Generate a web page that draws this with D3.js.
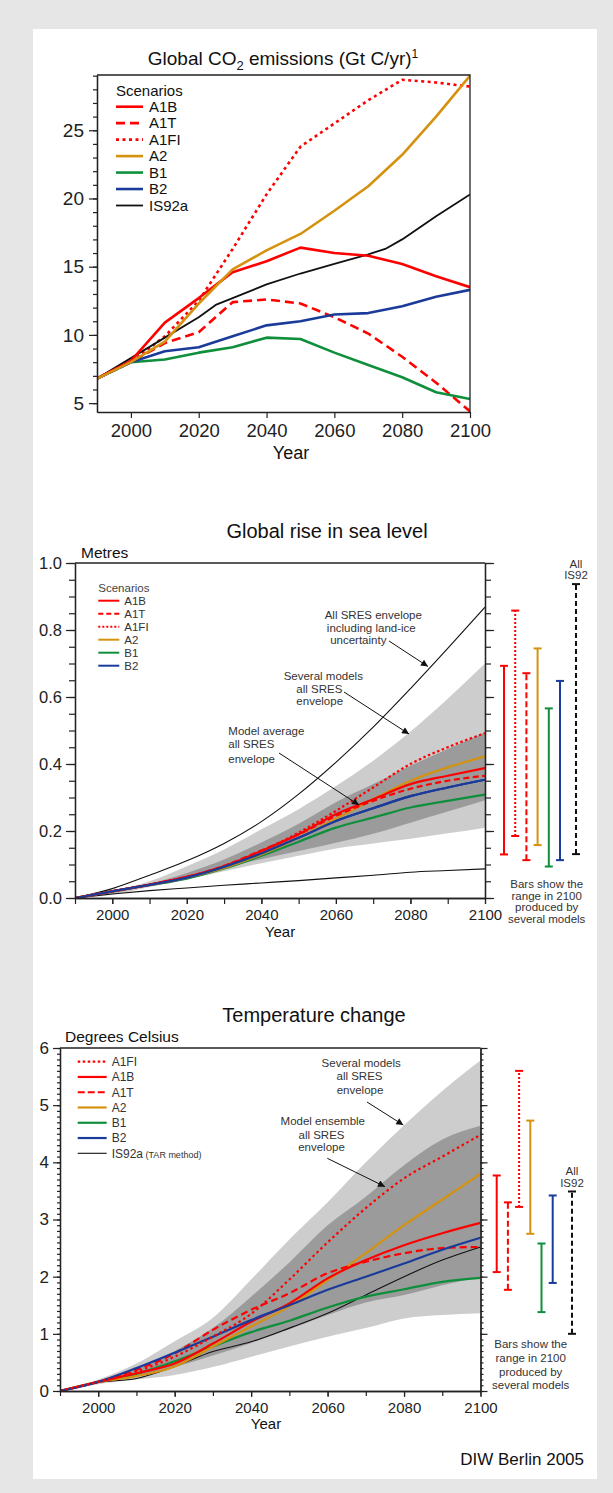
<!DOCTYPE html>
<html><head><meta charset="utf-8">
<script src="https://cdn.jsdelivr.net/npm/d3@7"></script>
<style>body{margin:0;background:#e6e6e6;} svg{display:block;}</style>
</head><body><svg id="c" width="613" height="1493"></svg>
<script>
// ---------------- DATA ----------------
// Panel 1: CO2 emissions (Gt C/yr)
const co2Years   = [1990,2000,2010,2020,2030,2040,2050,2060,2070,2080,2090,2100];
const co2A1B     = [6.8, 8.1, 10.9,12.7,14.6,15.4,16.4,16.0,15.8,15.2,14.3,13.5];
const co2A1T     = [6.8, 8.0, 9.4, 10.2,12.4,12.6,12.3,11.3,10.1,8.4, 6.5, 4.4];
const co2A1FI    = [6.8, 8.0, 9.9, 12.5,16.3,20.3,23.8,25.5,27.2,28.7,28.5,28.2];
const co2A2      = [6.8, 8.0, 9.5, 12.3,14.8,16.2,17.4,19.1,20.9,23.2,26.0,29.0];
const co2B1      = [6.8, 8.0, 8.2, 8.7, 9.1, 9.8, 9.7, 8.7, 7.8, 6.9, 5.8, 5.3];
const co2B2      = [6.8, 8.0, 8.8, 9.1, 9.9, 10.7,11.0,11.5,11.6,12.1,12.8,13.3];
const is92aYears = [1990,2000,2010,2020,2025,2030,2040,2050,2060,2070,2075,2080,2090,2100];
const co2IS92a   = [6.8, 8.3, 9.8, 11.3,12.2,12.7,13.7,14.5,15.2,15.9,16.3,17.0,18.7,20.3];
const co2YTicks  = [5,10,15,20,25];
const xTickYears = [2000,2020,2040,2060,2080,2100];

// Panel 2: sea level rise (metres)
const seaYears      = [1990,2000,2010,2020,2030,2040,2050,2060,2070,2080,2090,2100];
const seaLightUpper = [0,0.020,0.050,0.095,0.145,0.205,0.265,0.334,0.410,0.497,0.595,0.700];
const seaLightLower = [0,0.010,0.033,0.056,0.080,0.104,0.126,0.148,0.163,0.177,0.193,0.210];
const seaDarkUpper  = [0,0.018,0.042,0.075,0.115,0.166,0.222,0.286,0.340,0.395,0.445,0.495];
const seaDarkLower  = [0,0.014,0.037,0.064,0.090,0.116,0.140,0.165,0.192,0.225,0.258,0.292];
const seaAllUpper   = [0,0.028,0.068,0.111,0.163,0.228,0.310,0.405,0.510,0.625,0.745,0.868];
const seaAllLower   = [0,0.012,0.022,0.030,0.038,0.045,0.052,0.060,0.068,0.077,0.082,0.087];
const seaA1B  = [0,0.020,0.040,0.063,0.095,0.140,0.190,0.250,0.295,0.340,0.365,0.388];
const seaA1T  = [0,0.020,0.040,0.063,0.096,0.142,0.190,0.245,0.290,0.326,0.350,0.365];
const seaA1FI = [0,0.020,0.040,0.063,0.095,0.140,0.195,0.260,0.330,0.400,0.450,0.492];
const seaA2   = [0,0.020,0.039,0.061,0.090,0.130,0.180,0.237,0.295,0.350,0.390,0.423];
const seaB1   = [0,0.020,0.038,0.058,0.088,0.126,0.168,0.210,0.240,0.270,0.290,0.309];
const seaB2   = [0,0.020,0.039,0.061,0.093,0.133,0.180,0.230,0.268,0.304,0.330,0.353];
const seaYTicks = [0.0,0.2,0.4,0.6,0.8,1.0];
const seaBarNames = ["A1B","A1FI","A1T","A2","B1","B2","IS92"];
const seaBarLow   = [0.130,0.185,0.113,0.158,0.094,0.113,0.131];
const seaBarHigh  = [0.693,0.858,0.671,0.745,0.566,0.648,0.937];

// Panel 3: temperature change (degrees Celsius)
const tYears      = [1990,2000,2010,2020,2030,2040,2050,2060,2070,2080,2090,2100];
const tLightUpper = [0,0.20,0.48,0.87,1.28,1.95,2.65,3.30,4.00,4.65,5.25,5.78];
const tLightLower = [0,0.12,0.20,0.28,0.42,0.60,0.78,0.95,1.10,1.27,1.33,1.36];
const tDarkUpper  = [0,0.17,0.38,0.70,1.10,1.65,2.25,2.90,3.40,3.95,4.40,4.64];
const tDarkLower  = [0,0.14,0.25,0.42,0.62,0.84,1.08,1.33,1.55,1.68,1.85,2.00];
const tA1FI  = [0,0.16,0.34,0.60,0.95,1.35,1.95,2.60,3.20,3.72,4.10,4.48];
const tA1B   = [0,0.16,0.31,0.48,0.83,1.21,1.53,1.97,2.29,2.55,2.76,2.94];
const tA1T   = [0,0.16,0.37,0.66,1.07,1.42,1.71,2.06,2.26,2.41,2.50,2.52];
const tA2    = [0,0.16,0.26,0.43,0.78,1.13,1.48,1.94,2.41,2.90,3.35,3.80];
const tB1    = [0,0.16,0.30,0.52,0.78,1.03,1.23,1.46,1.65,1.78,1.91,1.98];
const tB2    = [0,0.16,0.40,0.67,0.95,1.24,1.50,1.77,2.00,2.23,2.47,2.68];
const tIS92a = [0,0.15,0.22,0.43,0.69,0.86,1.10,1.36,1.68,2.00,2.29,2.52];
const tYTicks = [0,1,2,3,4,5,6];
const tBarNames = ["A1B","A1T","A1FI","A2","B1","B2","IS92"];
const tBarLow   = [2.08,1.77,3.22,2.75,1.38,1.89,1.00];
const tBarHigh  = [3.77,3.30,5.60,4.73,2.58,3.42,3.49];

// ---------------- STYLES ----------------
const FONT = '"Liberation Sans", Arial, Helvetica, sans-serif';
const C = {red:"#ff0000", orange:"#d4920f", green:"#0f8f3c", blue:"#1b3b9a", black:"#111",
           light:"#cdcdcd", dark:"#9b9b9b", axis:"#222", note:"#333"};
const scen = {
  A1B:{color:C.red, dash:null}, A1T:{color:C.red, dash:"dash"}, A1FI:{color:C.red, dash:"dot"},
  A2:{color:C.orange, dash:null}, B1:{color:C.green, dash:null}, B2:{color:C.blue, dash:null},
  IS92a:{color:C.black, dash:null}, IS92:{color:C.black, dash:"dashbar"}
};
const fmtYear = d3.format("d");

const svg = d3.select("#c").attr("font-family", FONT);
svg.append("rect").attr("width",613).attr("height",1493).attr("fill","#e6e6e6");
svg.append("rect").attr("x",33).attr("y",29).attr("width",564).attr("height",1450).attr("fill","#fff");

const defs = svg.append("defs");
defs.append("marker").attr("id","arr").attr("viewBox","0 0 10 10").attr("refX",10).attr("refY",5)
  .attr("markerWidth",8).attr("markerHeight",7).attr("markerUnits","userSpaceOnUse").attr("orient","auto")
  .append("path").attr("d","M0,0L10,5L0,10z").attr("fill","#111");

function styleAxis(g, fs){
  g.attr("font-family", FONT);
  g.selectAll("path.domain").attr("stroke",C.axis).attr("stroke-width",1.3);
  g.selectAll(".tick line").attr("stroke",C.axis).attr("stroke-width",1.2);
  g.selectAll(".tick text").attr("font-size",fs).attr("fill","#222").attr("font-family",FONT);
}
function addAxis(gen, tx, ty, fs){
  const g = svg.append("g").attr("transform",`translate(${tx},${ty})`).call(gen);
  styleAxis(g, fs||12);
  return g;
}
function clip(id, x0, y0, x1, y1){
  defs.append("clipPath").attr("id",id).append("rect").attr("x",x0).attr("y",y0).attr("width",x1-x0).attr("height",y1-y0);
}
function text(x, y, s, fs, opts){
  opts = opts||{};
  return svg.append("text").attr("x",x).attr("y",y).attr("font-size",fs)
    .attr("text-anchor",opts.anchor||"start").attr("fill",opts.fill||"#111").text(s);
}
function dashFor(kind, set){ return kind ? set[kind] : null; }
function arrow(x1,y1,x2,y2){
  svg.append("line").attr("x1",x1).attr("y1",y1).attr("x2",x2).attr("y2",y2)
    .attr("stroke","#111").attr("stroke-width",1).attr("marker-end","url(#arr)");
}
function drawBand(g, years, lo, hi, x, y, fill){
  const area = d3.area().x((d,i)=>x(years[i])).y0((d,i)=>y(lo[i])).y1((d,i)=>y(hi[i])).curve(d3.curveMonotoneX);
  g.append("path").attr("d", area(years)).attr("fill", fill);
}
function drawLine(g, years, vals, x, y, color, width, dash, curve){
  const line = d3.line().x((d,i)=>x(years[i])).y(d=>y(d)).curve(curve||d3.curveLinear);
  g.append("path").attr("d", line(vals)).attr("fill","none").attr("stroke",color)
   .attr("stroke-width",width).attr("stroke-dasharray",dash).attr("stroke-linejoin","round");
}

// ================= PANEL 1: CO2 =================
{
  const L=97, R=470, T=75, B=412;
  const x = d3.scaleLinear().domain([1990,2100]).range([L,R]);
  const y = d3.scaleLinear().domain([4.35,29.05]).range([B,T]);
  clip("clip1", L, T, R, B);
  const g = svg.append("g").attr("clip-path","url(#clip1)");
  const dashes = {dash:"9,5", dot:"3,3.5"};
  const series = [["A1T",co2Years,co2A1T],["A1FI",co2Years,co2A1FI],["B1",co2Years,co2B1],["B2",co2Years,co2B2],
                  ["IS92a",is92aYears,co2IS92a],["A1B",co2Years,co2A1B],["A2",co2Years,co2A2]];
  series.forEach(([n,yr,v])=>drawLine(g, yr, v, x, y, scen[n].color, n==="IS92a"?1.8:2.6, dashFor(scen[n].dash,dashes)));

  svg.append("path").attr("d",`M${L},${T}H${R}V${B}`).attr("fill","none").attr("stroke",C.axis).attr("stroke-width",1.3);
  addAxis(d3.axisLeft(y).tickValues(d3.range(5,30,1)).tickSize(4).tickSizeOuter(0).tickFormat(""), L, 0);
  addAxis(d3.axisLeft(y).tickValues(co2YTicks).tickSize(8).tickSizeOuter(0).tickPadding(5), L, 0, 19);
  addAxis(d3.axisBottom(x).tickValues(xTickYears).tickSize(6).tickSizeOuter(0).tickPadding(6).tickFormat(fmtYear), 0, B, 18.5);

  svg.append("text").attr("x",283).attr("y",65).attr("text-anchor","middle").attr("font-size",19).attr("fill","#111")
    .call(t=>{ t.append("tspan").text("Global CO");
               t.append("tspan").attr("font-size",13).attr("dy",5).text("2");
               t.append("tspan").attr("dy",-5).text(" emissions (Gt C/yr)");
               t.append("tspan").attr("font-size",12).attr("dy",-7).text("1"); });
  text(291, 459, "Year", 18, {anchor:"middle"});

  text(116, 95.5, "Scenarios", 15);
  const leg = ["A1B","A1T","A1FI","A2","B1","B2","IS92a"];
  const legY = d3.scalePoint().domain(leg).range([106.7,205.5]);
  leg.forEach(n=>{
    const yy = legY(n);
    svg.append("line").attr("x1",116).attr("x2",143).attr("y1",yy).attr("y2",yy).attr("stroke",scen[n].color)
      .attr("stroke-width",n==="IS92a"?1.8:2.6).attr("stroke-dasharray",dashFor(scen[n].dash,dashes));
    text(149, yy+5.3, n, 15);
  });
}

// ================= PANEL 2: SEA LEVEL =================
{
  const L=75, R=485, T=563, B=898;
  const x = d3.scaleLinear().domain([1990,2100]).range([L,R]);
  const y = d3.scaleLinear().domain([0,1]).range([B,T]);
  clip("clip2", L, T, R, B);
  const g = svg.append("g").attr("clip-path","url(#clip2)");
  drawBand(g, seaYears, seaLightLower, seaLightUpper, x, y, C.light);
  drawBand(g, seaYears, seaDarkLower, seaDarkUpper, x, y, C.dark);
  drawLine(g, seaYears, seaAllUpper, x, y, "#111", 1.1, null, d3.curveMonotoneX);
  drawLine(g, seaYears, seaAllLower, x, y, "#111", 1.1, null, d3.curveMonotoneX);
  const dashes = {dash:"6,3.5", dot:"2.5,2.5"};
  [["B1",seaB1],["B2",seaB2],["A2",seaA2],["A1T",seaA1T],["A1B",seaA1B],["A1FI",seaA1FI]].forEach(([n,v])=>
    drawLine(g, seaYears, v, x, y, scen[n].color, 2.2, dashFor(scen[n].dash,dashes), d3.curveMonotoneX));
  drawLine(g, seaYears, seaB2, x, y, scen.B2.color, 2.2, null, d3.curveMonotoneX);

  svg.append("path").attr("d",`M${L},${T}H${R}`).attr("fill","none").attr("stroke",C.axis).attr("stroke-width",1.3);
  addAxis(d3.axisLeft(y).tickValues(d3.range(0,1.001,0.05)).tickSize(6).tickSizeOuter(0).tickFormat(""), L, 0);
  addAxis(d3.axisLeft(y).tickValues(seaYTicks).tickSize(9).tickSizeOuter(0).tickPadding(4).tickFormat(d3.format(".1f")), L, 0, 16.5);
  addAxis(d3.axisRight(y).tickValues(d3.range(0,1.001,0.05)).tickSize(6).tickSizeOuter(0).tickFormat(""), R, 0);
  addAxis(d3.axisRight(y).tickValues(seaYTicks).tickSize(9).tickSizeOuter(0).tickFormat(""), R, 0);
  addAxis(d3.axisBottom(x).tickValues(d3.range(1990,2101,10)).tickSize(6).tickSizeOuter(0).tickFormat(""), 0, B);
  addAxis(d3.axisBottom(x).tickValues(xTickYears).tickSize(6).tickSizeOuter(0).tickPadding(5).tickFormat(fmtYear), 0, B, 15);

  text(327, 538, "Global rise in sea level", 20, {anchor:"middle"});
  text(81, 558, "Metres", 15.5);
  text(280, 937, "Year", 15, {anchor:"middle"});

  text(98.3, 591.7, "Scenarios", 11.5, {fill:"#444"});
  const leg = ["A1B","A1T","A1FI","A2","B1","B2"];
  const legY = d3.scalePoint().domain(leg).range([600.7,665.7]);
  leg.forEach(n=>{
    const yy = legY(n);
    svg.append("line").attr("x1",98.3).attr("x2",119.3).attr("y1",yy).attr("y2",yy).attr("stroke",scen[n].color)
      .attr("stroke-width",2).attr("stroke-dasharray",dashFor(scen[n].dash,{dash:"5,3",dot:"2,2"}));
    text(124.3, yy+4.2, n, 11.5, {fill:"#333"});
  });

  [["All SRES envelope",373.3,619],["including land-ice",371.3,631.7],["uncertainty",358.3,644]]
    .forEach(([s,xx,yy])=>text(xx,yy,s,11.5,{anchor:"middle",fill:C.note}));
  arrow(389,641,428,666.5);
  [["Several models",323.3,680],["all SRES",319.3,693.3],["envelope",319.7,705]]
    .forEach(([s,xx,yy])=>text(xx,yy,s,11.5,{anchor:"middle",fill:C.note}));
  arrow(344,692,409,734);
  [["Model average",228.3,735],["all SRES",228.3,748.3],["envelope",228.3,763]]
    .forEach(([s,xx,yy])=>text(xx,yy,s,11.5,{fill:C.note}));
  arrow(279,753,359,805);

  const bx = d3.scalePoint().domain(seaBarNames.slice(0,6)).range([504,560]);
  const barDash = {dash:"6,3", dot:"2,2", dashbar:"5,3"};
  seaBarNames.forEach((n,i)=>{
    const xx = n==="IS92" ? bx("B2")+16 : bx(n);
    const s = scen[n];
    svg.append("line").attr("x1",xx).attr("x2",xx).attr("y1",y(seaBarLow[i])).attr("y2",y(seaBarHigh[i]))
      .attr("stroke",s.color).attr("stroke-width",2).attr("stroke-dasharray",dashFor(s.dash,barDash));
    [seaBarLow[i],seaBarHigh[i]].forEach(v=>svg.append("line").attr("x1",xx-4).attr("x2",xx+4)
      .attr("y1",y(v)).attr("y2",y(v)).attr("stroke",s.color).attr("stroke-width",2));
  });
  text(576,567.5,"All",11.5,{anchor:"middle",fill:C.note});
  text(576,579,"IS92",11.5,{anchor:"middle",fill:C.note});
  [["Bars show the",888],["range in 2100",899.7],["produced by",911.4],["several models",923]]
    .forEach(([s,yy])=>text(546.7,yy,s,11.5,{anchor:"middle",fill:C.note}));
}

// ================= PANEL 3: TEMPERATURE =================
{
  const L=60, R=480.5, T=1048, B=1391;
  const x = d3.scaleLinear().domain([1990,2100]).range([L,R]);
  const y = d3.scaleLinear().domain([0,6]).range([B,T]);
  clip("clip3", L, T, R, B);
  const g = svg.append("g").attr("clip-path","url(#clip3)");
  drawBand(g, tYears, tLightLower, tLightUpper, x, y, C.light);
  drawBand(g, tYears, tDarkLower, tDarkUpper, x, y, C.dark);
  const dashes = {dash:"7,4", dot:"2.5,3"};
  drawLine(g, tYears, tIS92a, x, y, "#111", 1.1, null, d3.curveMonotoneX);
  [["B1",tB1],["A2",tA2],["A1T",tA1T],["A1B",tA1B],["B2",tB2],["A1FI",tA1FI]].forEach(([n,v])=>
    drawLine(g, tYears, v, x, y, scen[n].color, 2.2, dashFor(scen[n].dash,dashes), d3.curveMonotoneX));

  svg.append("path").attr("d",`M${L},${T}H${R}`).attr("fill","none").attr("stroke",C.axis).attr("stroke-width",1.3);
  addAxis(d3.axisLeft(y).tickValues(d3.range(0,6.001,0.1)).tickSize(3).tickSizeOuter(0).tickFormat(""), L, 0);
  addAxis(d3.axisLeft(y).tickValues(tYTicks).tickSize(7).tickSizeOuter(0).tickPadding(4).tickFormat(d3.format("d")), L, 0, 17);
  addAxis(d3.axisRight(y).tickValues(d3.range(0,6.001,0.1)).tickSize(3).tickSizeOuter(0).tickFormat(""), R, 0);
  addAxis(d3.axisRight(y).tickValues(tYTicks).tickSize(7).tickSizeOuter(0).tickFormat(""), R, 0);
  addAxis(d3.axisBottom(x).tickValues(d3.range(1990,2101,10)).tickSize(5).tickSizeOuter(0).tickFormat(""), 0, B);
  addAxis(d3.axisBottom(x).tickValues(xTickYears).tickSize(6).tickSizeOuter(0).tickPadding(5).tickFormat(fmtYear), 0, B, 15);

  text(314, 1022, "Temperature change", 20, {anchor:"middle"});
  text(65, 1042, "Degrees Celsius", 15.5);
  text(266, 1429, "Year", 15, {anchor:"middle"});

  const leg = ["A1FI","A1B","A1T","A2","B1","B2","IS92a"];
  const legY = d3.scalePoint().domain(leg).range([1061.7,1153.3]);
  leg.forEach(n=>{
    const yy = legY(n);
    svg.append("line").attr("x1",77.7).attr("x2",106.7).attr("y1",yy).attr("y2",yy).attr("stroke",scen[n].color)
      .attr("stroke-width",n==="IS92a"?1.1:2.2).attr("stroke-dasharray",dashFor(scen[n].dash,{dash:"7,3",dot:"2.5,2.5"}));
    const t = text(111.7, yy+4.3, n, 12, {fill:"#333"});
    if(n==="IS92a") t.append("tspan").attr("font-size",9).text(" (TAR method)");
  });

  [["Several models",361.2,1066.7],["all SRES",359.5,1080.3],["envelope",360,1094.3]]
    .forEach(([s,xx,yy])=>text(xx,yy,s,11.5,{anchor:"middle",fill:C.note}));
  arrow(367,1102,403.3,1125);
  [["Model ensemble",322.8,1124.7],["all SRES",321.5,1138.7],["envelope",321.5,1151.3]]
    .forEach(([s,xx,yy])=>text(xx,yy,s,11.5,{anchor:"middle",fill:C.note}));
  arrow(327.3,1158.3,385,1186.7);

  const bx = d3.scalePoint().domain(tBarNames.slice(0,6)).range([496.7,552.7]);
  const barDash = {dash:"6,3", dot:"2,2", dashbar:"5,3"};
  tBarNames.forEach((n,i)=>{
    const xx = n==="IS92" ? bx("B2")+19.3 : bx(n);
    const s = scen[n];
    svg.append("line").attr("x1",xx).attr("x2",xx).attr("y1",y(tBarLow[i])).attr("y2",y(tBarHigh[i]))
      .attr("stroke",s.color).attr("stroke-width",2).attr("stroke-dasharray",dashFor(s.dash,barDash));
    [tBarLow[i],tBarHigh[i]].forEach(v=>svg.append("line").attr("x1",xx-4).attr("x2",xx+4)
      .attr("y1",y(v)).attr("y2",y(v)).attr("stroke",s.color).attr("stroke-width",2));
  });
  text(572,1174.7,"All",11.5,{anchor:"middle",fill:C.note});
  text(572,1187.3,"IS92",11.5,{anchor:"middle",fill:C.note});
  [["Bars show the",1348.3],["range in 2100",1362],["produced by",1375.7],["several models",1388.7]]
    .forEach(([s,yy])=>text(530.7,yy,s,11.5,{anchor:"middle",fill:C.note}));
}

text(584, 1465, "DIW Berlin 2005", 17, {anchor:"end"});
</script>
</body></html>
